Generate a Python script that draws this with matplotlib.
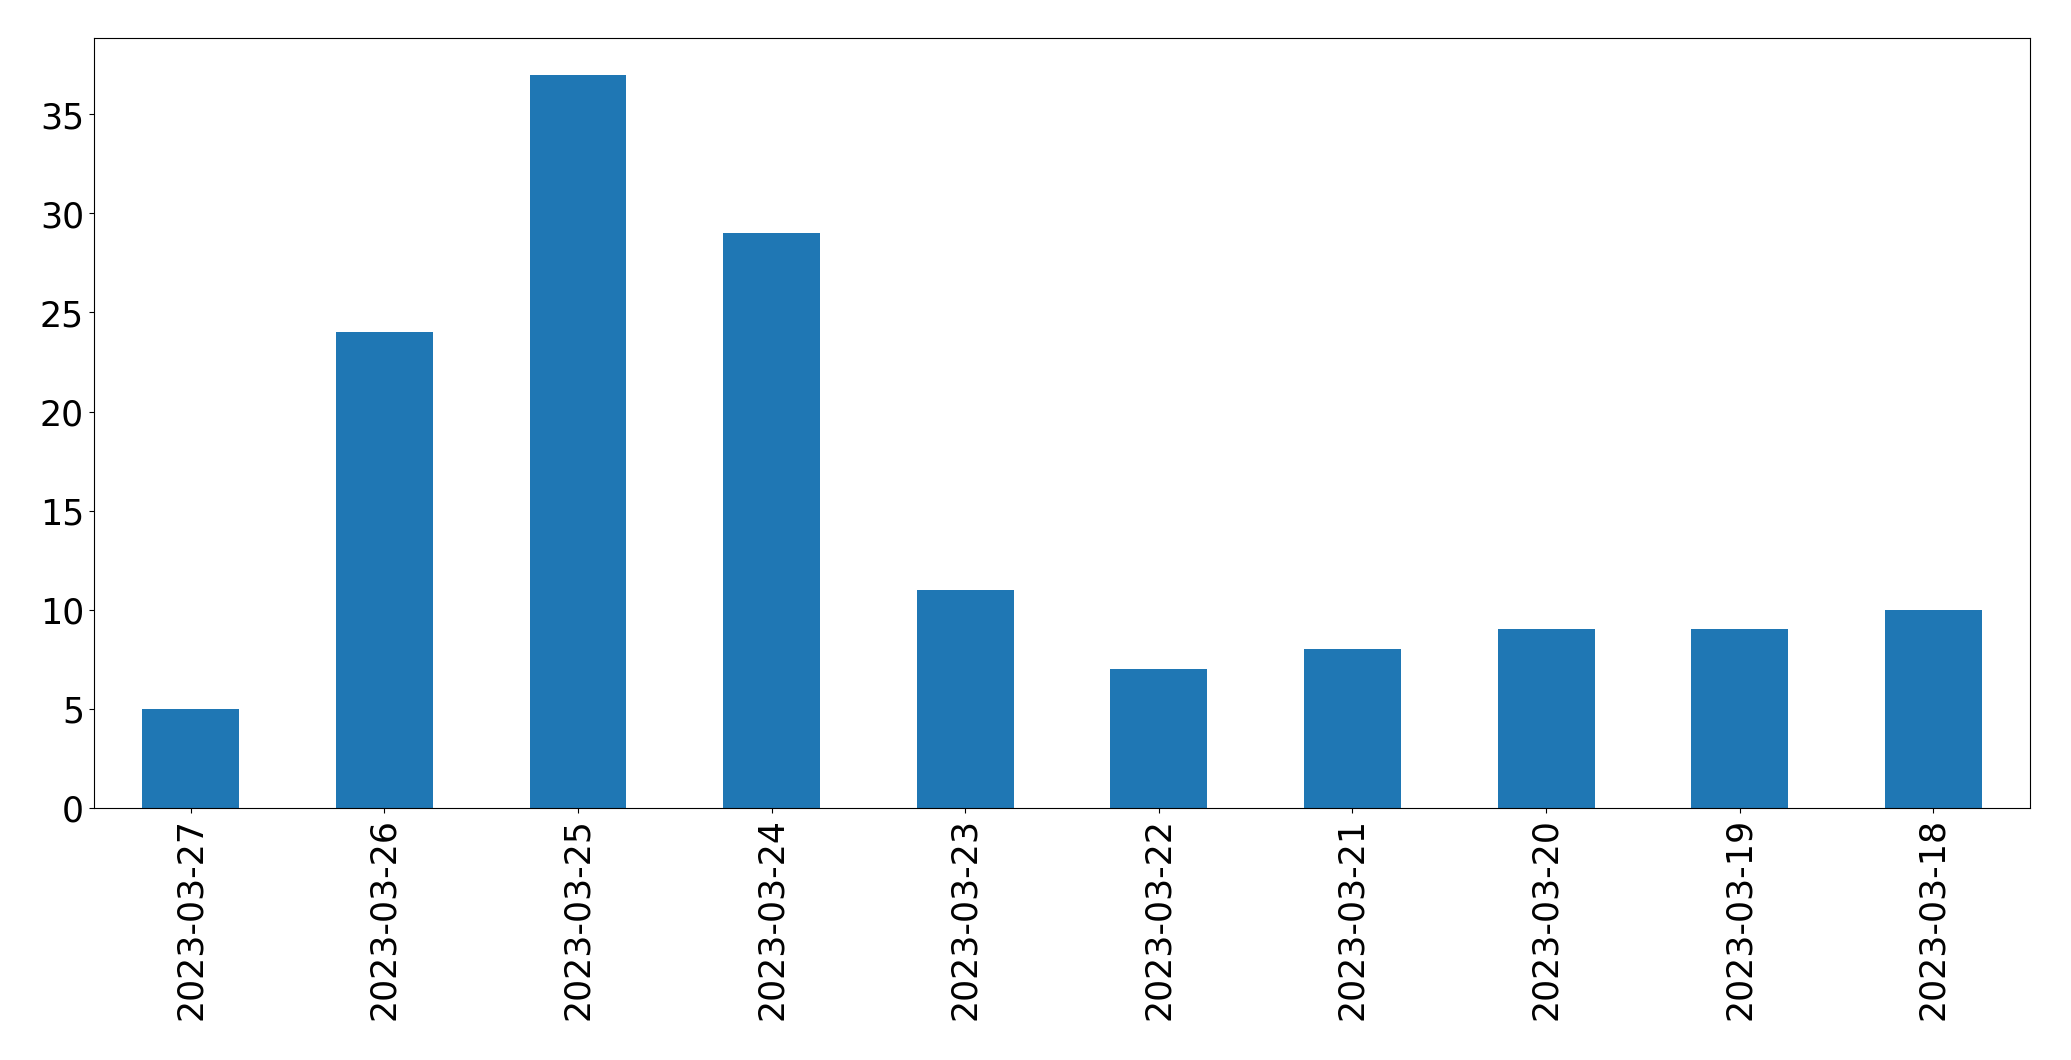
import matplotlib
matplotlib.use("Agg")
import matplotlib.pyplot as plt

dates = ["2023-03-27", "2023-03-26", "2023-03-25", "2023-03-24", "2023-03-23",
         "2023-03-22", "2023-03-21", "2023-03-20", "2023-03-19", "2023-03-18"]
counts = [5, 24, 37, 29, 11, 7, 8, 9, 9, 10]

fig = plt.figure(figsize=(20.71, 10.605), dpi=100)
ax = fig.add_axes([0.0453, 0.238, 0.9350, 0.7255])
x = range(len(dates))
ax.bar(x, counts, width=0.5, color="#1f77b4")
ax.set_xticks(list(x))
ax.set_xticklabels(dates, rotation=90)
ax.set_xlim(-0.5, len(dates) - 0.5)
ax.tick_params(labelsize=25)
fig.savefig("out.png", dpi=100)
